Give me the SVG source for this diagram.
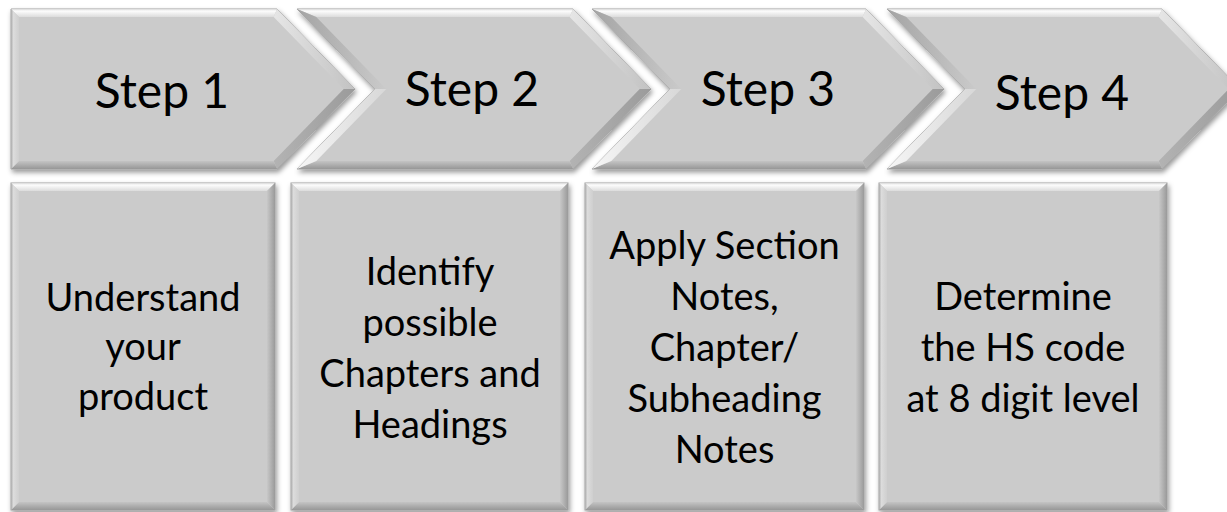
<svg xmlns="http://www.w3.org/2000/svg" width="1227" height="512" viewBox="0 0 1227 512">
<defs>
<filter id="sh" x="-10%" y="-10%" width="130%" height="130%">
<feDropShadow dx="1.5" dy="3" stdDeviation="2.5" flood-color="#000" flood-opacity="0.4"/>
</filter>
<linearGradient id="gTop" x1="0" y1="0" x2="0" y2="1"><stop offset="0" stop-color="#d8d8d8"/><stop offset="0.25" stop-color="#fdfdfd"/><stop offset="1" stop-color="#dcdcdc"/></linearGradient>
<linearGradient id="gBot" x1="0" y1="0" x2="0" y2="1"><stop offset="0" stop-color="#c4c4c4"/><stop offset="1" stop-color="#979797"/></linearGradient>
<linearGradient id="gLeft" x1="0" y1="0" x2="1" y2="0"><stop offset="0" stop-color="#ababab"/><stop offset="0.3" stop-color="#dcdcdc"/><stop offset="1" stop-color="#cfcfcf"/></linearGradient>
<linearGradient id="gRight" x1="0" y1="0" x2="1" y2="0"><stop offset="0" stop-color="#c8c8c8"/><stop offset="1" stop-color="#9a9a9a"/></linearGradient>
<linearGradient id="gTR" x1="0" y1="0" x2="1" y2="0"><stop offset="0" stop-color="#e6e6e6"/><stop offset="1" stop-color="#c2c2c2"/></linearGradient>
<linearGradient id="gBR" x1="0" y1="0" x2="1" y2="0"><stop offset="0" stop-color="#b3b3b3"/><stop offset="1" stop-color="#9b9b9b"/></linearGradient>
<linearGradient id="gNU" x1="0" y1="0" x2="1" y2="0"><stop offset="0" stop-color="#a4a4a4"/><stop offset="1" stop-color="#cacaca"/></linearGradient>
<linearGradient id="gNL" x1="0" y1="0" x2="1" y2="0"><stop offset="0" stop-color="#f6f6f6"/><stop offset="1" stop-color="#d8d8d8"/></linearGradient>
</defs>
<style>
.base{fill:#cbcbcb;stroke:#a0a0a0;stroke-width:1;filter:url(#sh)}
.top{fill:url(#gTop)}
.bot{fill:url(#gBot)}
.lft{fill:url(#gLeft)}
.rgt{fill:url(#gRight)}
.tr{fill:url(#gTR)}
.br{fill:url(#gBR)}
.nu{fill:url(#gNU)}
.nl{fill:url(#gNL)}
.st{font-family:Lato,"Liberation Sans",sans-serif;font-size:48px;fill:#000;text-anchor:middle}
.bt{font-family:Lato,"Liberation Sans",sans-serif;font-size:38px;fill:#000;text-anchor:middle}
</style>
<rect width="1227" height="512" fill="#ffffff"/>

<g id="step1">
<polygon class="base" points="11,9 277,9 355,89 277,169 11,169"/>
<polygon class="top" points="11,9 277,9 273.7,17 19,17"/>
<polygon class="tr" points="277,9 355,89 343.7,89 273.7,17"/>
<polygon class="br" points="355,89 277,169 273.7,161 343.7,89"/>
<polygon class="bot" points="277,169 11,169 19,161 273.7,161"/>
<polygon class="lft" points="11,169 11,9 19,17 19,161"/>
<text class="st" x="162" y="108">Step 1</text>
</g>

<g id="step2">
<polygon class="base" points="297,9 573,9 651,89 573,169 297,169 375,89"/>
<polygon class="top" points="297,9 573,9 569.7,17 316.3,17"/>
<polygon class="tr" points="573,9 651,89 639.7,89 569.7,17"/>
<polygon class="br" points="651,89 573,169 569.7,161 639.7,89"/>
<polygon class="bot" points="573,169 297,169 316.3,161 569.7,161"/>
<polygon class="nl" points="297,169 375,89 386.3,89 316.3,161"/>
<polygon class="nu" points="375,89 297,9 316.3,17 386.3,89"/>
<text class="st" x="472" y="106">Step 2</text>
</g>

<g id="step3">
<polygon class="base" points="592,9 866,9 944,89 866,169 592,169 670,89"/>
<polygon class="top" points="592,9 866,9 862.7,17 611.3,17"/>
<polygon class="tr" points="866,9 944,89 932.7,89 862.7,17"/>
<polygon class="br" points="944,89 866,169 862.7,161 932.7,89"/>
<polygon class="bot" points="866,169 592,169 611.3,161 862.7,161"/>
<polygon class="nl" points="592,169 670,89 681.3,89 611.3,161"/>
<polygon class="nu" points="670,89 592,9 611.3,17 681.3,89"/>
<text class="st" x="768" y="106">Step 3</text>
</g>

<g id="step4">
<polygon class="base" points="887,9 1162,9 1240,89 1162,169 887,169 965,89"/>
<polygon class="top" points="887,9 1162,9 1158.7,17 906.3,17"/>
<polygon class="tr" points="1162,9 1240,89 1228.7,89 1158.7,17"/>
<polygon class="br" points="1240,89 1162,169 1158.7,161 1228.7,89"/>
<polygon class="bot" points="1162,169 887,169 906.3,161 1158.7,161"/>
<polygon class="nl" points="887,169 965,89 976.3,89 906.3,161"/>
<polygon class="nu" points="965,89 887,9 906.3,17 976.3,89"/>
<text class="st" x="1062" y="110">Step 4</text>
</g>

<g id="box1">
<rect class="base" x="11" y="183" width="264" height="327"/>
<polygon class="top" points="11,183 275,183 267,191 19,191"/>
<polygon class="bot" points="11,510 275,510 267,502 19,502"/>
<polygon class="lft" points="11,183 19,191 19,502 11,510"/>
<polygon class="rgt" points="275,183 267,191 267,502 275,510"/>
<text class="bt" x="143" y="311">Understand</text>
<text class="bt" x="143" y="360">your</text>
<text class="bt" x="143" y="410">product</text>
</g>

<g id="box2">
<rect class="base" x="291" y="183" width="277" height="327"/>
<polygon class="top" points="291,183 568,183 560,191 299,191"/>
<polygon class="bot" points="291,510 568,510 560,502 299,502"/>
<polygon class="lft" points="291,183 299,191 299,502 291,510"/>
<polygon class="rgt" points="568,183 560,191 560,502 568,510"/>
<text class="bt" x="430" y="285">Identify</text>
<text class="bt" x="430" y="336">possible</text>
<text class="bt" x="430" y="387">Chapters and</text>
<text class="bt" x="430" y="438">Headings</text>
</g>

<g id="box3">
<rect class="base" x="585" y="183" width="279" height="327"/>
<polygon class="top" points="585,183 864,183 856,191 593,191"/>
<polygon class="bot" points="585,510 864,510 856,502 593,502"/>
<polygon class="lft" points="585,183 593,191 593,502 585,510"/>
<polygon class="rgt" points="864,183 856,191 856,502 864,510"/>
<text class="bt" x="724.5" y="259">Apply Section</text>
<text class="bt" x="724.5" y="310">Notes,</text>
<text class="bt" x="724.5" y="361">Chapter/</text>
<text class="bt" x="724.5" y="412">Subheading</text>
<text class="bt" x="724.5" y="463">Notes</text>
</g>

<g id="box4">
<rect class="base" x="879" y="183" width="288" height="327"/>
<polygon class="top" points="879,183 1167,183 1159,191 887,191"/>
<polygon class="bot" points="879,510 1167,510 1159,502 887,502"/>
<polygon class="lft" points="879,183 887,191 887,502 879,510"/>
<polygon class="rgt" points="1167,183 1159,191 1159,502 1167,510"/>
<text class="bt" x="1023" y="310">Determine</text>
<text class="bt" x="1023" y="361">the HS code</text>
<text class="bt" x="1023" y="412">at 8 digit level</text>
</g>
</svg>
